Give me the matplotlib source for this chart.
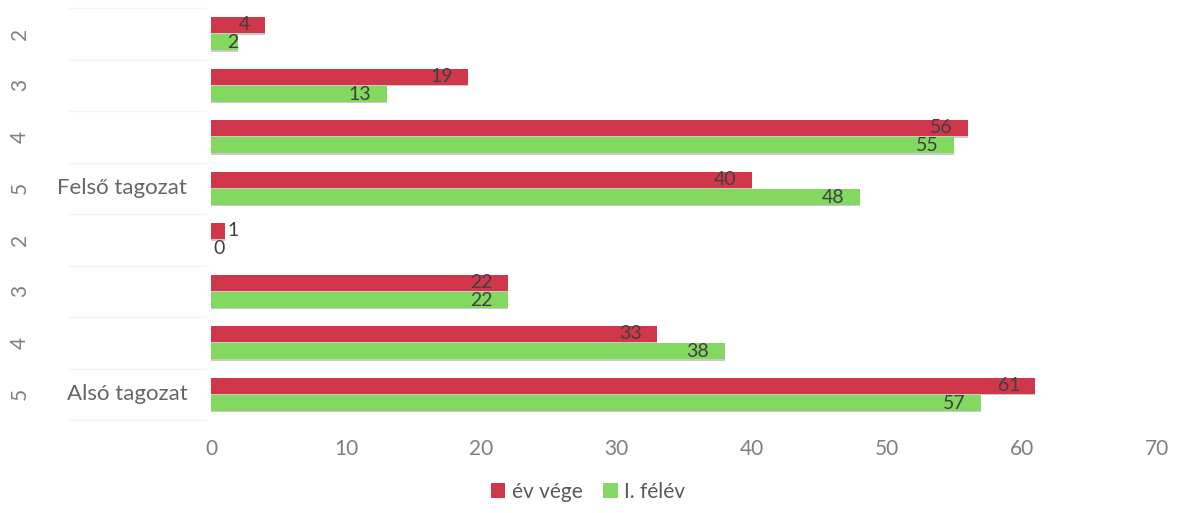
import matplotlib
matplotlib.use("Agg")
import matplotlib.pyplot as plt
import matplotlib.transforms as mtransforms
from matplotlib.patches import Patch
import numpy as np

plt.rcParams['font.family'] = ['Lato', 'DejaVu Sans']

# Data (bottom to top, as in the chart)
groups = ['Alsó tagozat', 'Alsó tagozat', 'Alsó tagozat', 'Alsó tagozat',
          'Felső tagozat', 'Felső tagozat', 'Felső tagozat', 'Felső tagozat']
grades = ['5', '4', '3', '2', '5', '4', '3', '2']
ev_vege = [61, 33, 22, 1, 40, 56, 19, 4]
i_felev = [57, 38, 22, 0, 48, 55, 13, 2]
series_names = ['év vége', 'I. félév']
xticks = [0, 10, 20, 30, 40, 50, 60, 70]

red = '#d1374b'
green = '#83d95f'
label_col = '#404040'
tick_col = '#7f7f7f'

fig = plt.figure(figsize=(11.77, 5.13), dpi=100)
ax = fig.add_axes([211/1177, 1 - 420/513, 946/1177, 412/513])

y = np.arange(len(grades))
h = 0.31
off = 0.165
ax.barh(y + off, ev_vege, height=h, color=red, edgecolor='none', zorder=3)
ax.barh(y - off, i_felev, height=h, color=green, edgecolor='none', zorder=3)
# subtle shadow under bars
ax.barh(y + off - 0.025, ev_vege, height=h, color='#a8a8a8', edgecolor='none', zorder=2, alpha=0.6)
ax.barh(y - off - 0.025, i_felev, height=h, color='#a8a8a8', edgecolor='none', zorder=2, alpha=0.6)

def put_label(v, yy):
    if v <= 1:
        ax.annotate(str(v), xy=(v, yy), xytext=(2, 0), textcoords='offset points',
                    ha='left', va='center', fontsize=14, color=label_col, zorder=5)
    elif v <= 2:
        ax.annotate(str(v), xy=(v, yy), xytext=(0, 0), textcoords='offset points',
                    ha='right', va='center', fontsize=14, color=label_col, zorder=5)
    else:
        ax.annotate(str(v), xy=(v, yy), xytext=(-11, 0), textcoords='offset points',
                    ha='right', va='center', fontsize=14, color=label_col, zorder=5)

for i in range(len(grades)):
    put_label(ev_vege[i], y[i] + off + 0.01)
    put_label(i_felev[i], y[i] - off - 0.01)

ax.set_xlim(0, 70)
ax.set_ylim(-0.5, len(grades) - 0.5)
ax.set_xticks(xticks)
ax.set_xticklabels([str(t) for t in xticks], fontsize=15, color=tick_col)
ax.tick_params(axis='x', length=0, pad=14)
ax.set_yticks([])
for s in ax.spines.values():
    s.set_visible(False)

trans = mtransforms.blended_transform_factory(ax.transAxes, ax.transData)
for i, g in enumerate(grades):
    ax.text(-0.202, y[i], g, transform=trans, rotation=90, ha='center', va='center',
            fontsize=15, color=tick_col)
# group labels at the first row of each group
seen = set()
for i, g in enumerate(groups):
    if g not in seen:
        seen.add(g)
        ax.text(-0.025, y[i], g, transform=trans, ha='right', va='center',
                fontsize=16, color='#666666')

# faint separators in label area
for b in np.arange(-0.5, len(grades), 1.0):
    ax.plot([-0.15, -0.005], [b, b], transform=trans, color='#f4f4f4', lw=1,
            clip_on=False, zorder=1)

handles = [Patch(facecolor=red, edgecolor='none'), Patch(facecolor=green, edgecolor='none')]
leg = fig.legend(handles, series_names, loc='center', bbox_to_anchor=(588/1177, 1 - 492/513),
                 ncol=2, frameon=False, fontsize=15, handlelength=0.7, handleheight=0.7,
                 handletextpad=0.3, columnspacing=1.0)
for t in leg.get_texts():
    t.set_color('#595959')

fig.savefig('out.png', dpi=100)
